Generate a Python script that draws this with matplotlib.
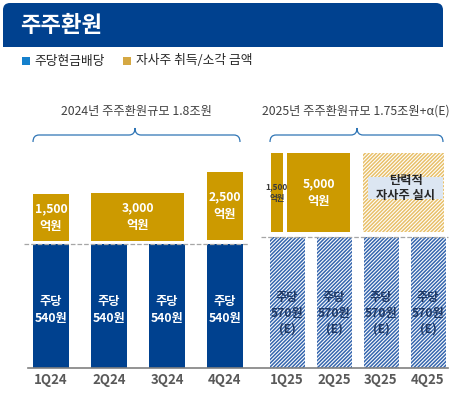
import numpy as np
import matplotlib
matplotlib.use('Agg')
import matplotlib.pyplot as plt
from matplotlib.patches import FancyBboxPatch, Rectangle, PathPatch
from matplotlib.path import Path

plt.rcParams['font.family'] = ['Noto Sans CJK KR', 'DejaVu Sans']
plt.rcParams['hatch.linewidth'] = 1.1

# data
quarters = ['1Q24', '2Q24', '3Q24', '4Q24', '1Q25', '2Q25', '3Q25', '4Q25']
dps = [540, 540, 540, 540, 570, 570, 570, 570]          # 주당 배당금(원)
dps_est = [False] * 4 + [True] * 4
buyback_labels = ['1,500\n억원', '3,000\n억원', '2,500\n억원', '1,500\n억원', '5,000\n억원', '탄력적\n자사주 실시']
group_titles = ['2024년 주주환원규모 1.8조원', '2025년 주주환원규모 1.75조원+α(E)']
legend_labels = ['주당현금배당', '자사주 취득/소각 금액']

NAVY = '#00418F'
GOLD = '#CC9A00'
W, H = 457, 393

fig = plt.figure(figsize=(W / 100, H / 100), dpi=100)

# background axes in pixel coords for decorations
bg = fig.add_axes([0, 0, 1, 1])
bg.set_xlim(0, W)
bg.set_ylim(H, 0)
bg.axis('off')

# header
bg.add_patch(FancyBboxPatch((3, 3), 440, 44, boxstyle='round,pad=0,rounding_size=7',
                            fc=NAVY, ec='none'))
bg.add_patch(Rectangle((3, 30), 440, 17, fc=NAVY, ec='none'))
bg.text(20, 25, '주주환원', color='white', fontsize=16, fontweight='bold', va='center', ha='left')

# legend
bg.add_patch(Rectangle((22, 57), 8, 8, fc='#1580CC', ec='none'))
bg.text(34, 61, legend_labels[0], fontsize=9.2, va='center', color='#262626')
bg.add_patch(Rectangle((123, 57), 8, 8, fc='#D5A843', ec='none'))
bg.text(136, 61, legend_labels[1], fontsize=9.2, va='center', color='#262626')

# group titles and braces
bg.text(136, 111, group_titles[0], fontsize=8.8, ha='center', va='center', color='#404040')
bg.text(356, 111, group_titles[1], fontsize=8.8, ha='center', va='center', color='#404040')


def brace(x0, x1, xc, y_end, y_mid, y_peak):
    r = 6
    verts = [(x0, y_end), (x0, y_mid), (x0 + r, y_mid),
             (xc - r, y_mid), (xc, y_mid), (xc, y_peak),
             (xc, y_mid), (xc + r, y_mid),
             (x1 - r, y_mid), (x1, y_mid), (x1, y_end)]
    codes = [Path.MOVETO, Path.CURVE3, Path.CURVE3,
             Path.LINETO, Path.CURVE3, Path.CURVE3,
             Path.CURVE3, Path.CURVE3,
             Path.LINETO, Path.CURVE3, Path.CURVE3]
    bg.add_patch(PathPatch(Path(verts, codes), fc='none', ec='#2F75B5', lw=0.9))


brace(33, 240, 135, 142, 135, 128)
brace(270, 443, 357, 142, 135, 128)

# bar axes: 1 unit = 1 px, baseline at y=0
ax = fig.add_axes([0, 0, 1, 1])
ax.set_xlim(0, W)
ax.set_ylim(-25, 368)
ax.axis('off')
ax.patch.set_alpha(0)

px_per_won = 124 / 540
x = np.r_[51 + 58 * np.arange(4), 287 + 47 * np.arange(4)]
bw = 36
h = np.array(dps) * px_per_won

for i in range(8):
    if not dps_est[i]:
        ax.bar(x[i], h[i], width=bw, color=NAVY, lw=0)
        ax.text(x[i], 58, '주당\n' + f'{dps[i]}원', color='white', fontsize=8.8,
                fontweight='bold', ha='center', va='center', linespacing=1.45)
    else:
        ax.bar(x[i], h[i], width=bw - 1, color='white', edgecolor='#3566AE', hatch='/' * 9, lw=0)
        ax.text(x[i], 55, '주당\n' + f'{dps[i]}원\n(E)', color='#1F3864', fontsize=8.8,
                fontweight='bold', ha='center', va='center', linespacing=1.3)
    ax.text(x[i], -12, quarters[i], color='#595959', fontsize=9.5, fontweight='bold',
            ha='center', va='center')

# buyback boxes (left, right, bottom, top) in px-above-baseline units
boxes = [(33, 69, 127, 174), (91, 184, 127, 175), (207, 243, 128, 196),
         (271, 283, 136, 215), (287, 350, 136, 215), (363, 444, 136, 215)]
for k, (l, r, b, t) in enumerate(boxes):
    if k < 5:
        ax.bar((l + r) / 2, t - b, bottom=b, width=r - l, color=GOLD, lw=0)
    else:
        ax.bar((l + r) / 2, t - b, bottom=b, width=r - l, color='white',
               edgecolor='#E8C06A', hatch='/' * 9, lw=0)
    cy = (b + t) / 2
    if k == 3:
        ax.text((l + r) / 2, cy, buyback_labels[k], color='#3A3A3A', fontsize=6,
                fontweight='bold', ha='center', va='center', linespacing=1.4)
    elif k == 5:
        ax.add_patch(Rectangle((368, 169), 75, 22, fc='#DCE6F2', ec='none'))
        ax.text((l + r) / 2 + 2, 180, buyback_labels[k], color='#262626', fontsize=8.8,
                fontweight='bold', ha='center', va='center', linespacing=1.25)
    else:
        ax.text((l + r) / 2, cy, buyback_labels[k], color='white', fontsize=8.8,
                fontweight='bold', ha='center', va='center', linespacing=1.45)

# dashed reference lines and baseline
ax.plot([24, 248], [dps[0] * px_per_won] * 2, ls='--', color='#A6A6A6', lw=0.9)
ax.plot([261, 448], [dps[4] * px_per_won] * 2, ls='--', color='#A6A6A6', lw=0.9)
ax.plot([28, 448], [0, 0], color='#808080', lw=1.2)

fig.savefig('out.png', dpi=100)
